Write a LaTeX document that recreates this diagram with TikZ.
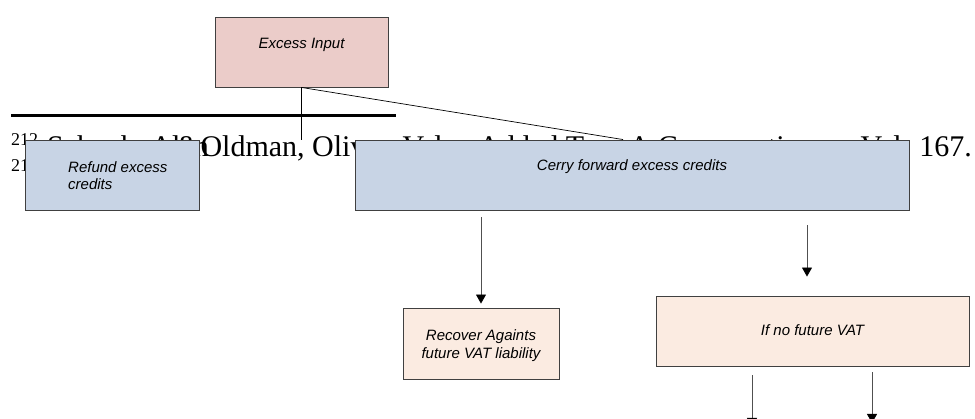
\documentclass[tikz,border=0pt]{standalone}
\usepackage{fontspec}
\setmainfont{Liberation Serif}
\newfontfamily\boxfont{Liberation Sans}
\usetikzlibrary{arrows.meta,positioning,calc}

\definecolor{inputpink}{RGB}{235,204,201}
\definecolor{creditblue}{RGB}{200,212,229}
\definecolor{outcomepeach}{RGB}{251,235,225}
\definecolor{boxedge}{RGB}{64,64,64}
\definecolor{arrowgray}{RGB}{80,80,80}

\tikzset{
  box/.style={draw=boxedge, line width=0.9pt, inner sep=0pt},
  inputbox/.style={box, fill=inputpink},
  creditbox/.style={box, fill=creditblue},
  outcomebox/.style={box, fill=outcomepeach},
  boxtext/.style={font=\boxfont\itshape\fontsize{15}{17}\selectfont, inner sep=0pt},
  link/.style={draw=black, line width=0.7pt},
  arr/.style={draw=arrowgray, line width=0.8pt, -{Triangle[width=10pt,length=9pt,color=black]}},
  fnote/.style={font=\fontsize{30}{33}\selectfont, inner sep=0pt},
  fnmark/.style={font=\fontsize{18}{20}\selectfont, inner sep=0pt}
}

\begin{document}
\begin{tikzpicture}[x=1pt,y=-1pt]
    \useasboundingbox (0,0) rectangle (975,419);
    \clip (0,0) rectangle (975,419);

    % Footnote of the page, behind the chart
    \draw[line width=3pt] (11,116) -- (396,116);
    \node[fnmark, anchor=base west] (fn212) at (11,146) {212};
    \node[fnote, anchor=base west] (fnauth) at (47,157) {Schenk, Alan};
    \node[fnote, anchor=base west] (fnbody) at (177,157) {\&Oldman, Oliver, Value Added Tax: A Comparative};
    \node[fnote, anchor=base east] (fnend) at (972,157) {Vol. 167.};
    \node[fnmark, anchor=base west] (fn21) at (11,172) {21};

    % Boxes
    \node[inputbox, minimum width=173pt, minimum height=70pt] (excess) at (301.5,52) {};
    \node[creditbox, minimum width=174pt, minimum height=70pt] (refund) at (112,175) {};
    \node[creditbox, minimum width=554pt, minimum height=70pt] (cerry) at (632,175) {};
    \node[outcomebox, minimum width=156pt, minimum height=71pt] (recover) at (481,343.5) {};
    \node[outcomebox, minimum width=313pt, minimum height=70pt] (ifno) at (812.5,331) {};

    % Box texts
    \node[boxtext, anchor=base] (excessT) at (301.5,49) {Excess Input};
    \node[boxtext, anchor=north west, align=left] (refundT) at (68,161) {Refund excess\\credits};
    \node[boxtext, anchor=base] (cerryT) at (632,171) {Cerry forward excess credits};
    \node[boxtext, anchor=north, align=center] (recoverT) at (481,329) {Recover Againts\\[1pt]future VAT liability};
    \node[boxtext, anchor=base] (ifnoT) at (812.5,336) {If no future VAT};

    % Connectors
    \coordinate (drop) at (excess.south |- refund.north);
    \coordinate (lowleft) at (752,427);
    \coordinate (lowright) at (872,423);
    \draw[link] (excess.south) -- (drop);
    \draw[link] (excess.south) -- ([xshift=-9pt]cerry.north);
    \draw[arr, shorten <=7pt, shorten >=4pt] (recover.north |- cerry.south) -- (recover.north);
    \draw[arr, shorten <=15pt, shorten >=19pt] ([xshift=-5.5pt]ifno.north |- cerry.south) -- ([xshift=-5.5pt]ifno.north);
    \draw[arr, shorten <=9pt] (ifno.south -| lowleft) -- (lowleft);
    \draw[arr, shorten <=6pt] (ifno.south -| lowright) -- (lowright);
\end{tikzpicture}
\end{document}
